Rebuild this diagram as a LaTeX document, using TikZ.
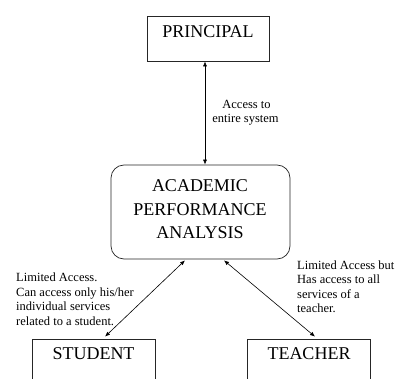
\documentclass[tikz,border=0pt]{standalone}
\usepackage{fontspec}
\setmainfont{Liberation Serif}
\usetikzlibrary{calc,arrows.meta}
\begin{document}
\begin{tikzpicture}[x=1pt,y=-1pt,
  boxst/.style={draw=black!85,line width=0.7pt,inner sep=0pt},
  bigtext/.style={font=\fontsize{18}{23.3}\selectfont,inner sep=0pt,align=center},
  smalltext/.style={font=\fontsize{12.5}{14.5}\selectfont,inner sep=0pt,align=left},
  link/.style={line width=0.6pt,{Latex[length=5pt,width=4pt]}-{Latex[length=5pt,width=4pt]}}]
\useasboundingbox (0,0) rectangle (398,379);
\clip (0,0) rectangle (398,379);
\node[boxst,minimum width=122pt,minimum height=45pt] (principal) at (208,38.5) {};
\node[bigtext,anchor=base] (principaltext) at (208,37.5) {PRINCIPAL};
\node[boxst,rounded corners=13pt,minimum width=179pt,minimum height=94pt] (apa) at (200.5,212) {};
\node[bigtext,anchor=base] (apa1) at (200,191.7) {ACADEMIC};
\node[bigtext,anchor=base] (apa2) at (200,215) {PERFORMANCE};
\node[bigtext,anchor=base] (apa3) at (200,238.3) {ANALYSIS};
\node[boxst,minimum width=123pt,minimum height=60pt] (student) at (93.5,369) {};
\node[bigtext,anchor=base] (studenttext) at (93.5,359) {STUDENT};
\node[boxst,minimum width=123pt,minimum height=60pt] (teacher) at (308.5,369) {};
\node[bigtext,anchor=base] (teachertext) at (309,359) {TEACHER};
\draw[link] ($(principal.south)+(-3,0)$) -- ($(apa.north)+(4.5,0)$);
\draw[link] ($(student.north)+(11.5,-2)$) -- ($(apa.south)+(-15.5,1)$);
\draw[link] ($(teacher.north)+(6.5,-2)$) -- ($(apa.south)+(23.5,1)$);
\node[smalltext,anchor=base] (l1a) at (246.5,108.5) {Access to};
\node[smalltext,anchor=base] (l1b) at (245.5,123) {entire system};
\node[smalltext,anchor=base west] (l2a) at (16,281.7) {Limited Access.};
\node[smalltext,anchor=base west] (l2b) at (16,296.2) {Can access only his/her};
\node[smalltext,anchor=base west] (l2c) at (16,310.7) {individual services};
\node[smalltext,anchor=base west] (l2d) at (16,325.2) {related to a student.};
\node[smalltext,anchor=base west] (l3a) at (297,269) {Limited Access but};
\node[smalltext,anchor=base west] (l3b) at (297,283.5) {Has access to all};
\node[smalltext,anchor=base west] (l3c) at (297,298) {services of a};
\node[smalltext,anchor=base west] (l3d) at (297,312.5) {teacher.};
\end{tikzpicture}
\end{document}
